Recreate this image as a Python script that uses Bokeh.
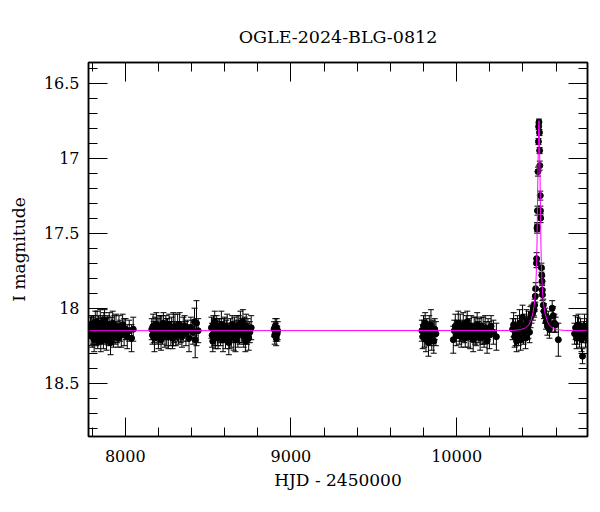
from bokeh.plotting import figure
from bokeh.models import (ColumnDataSource, Whisker, TeeHead, LinearAxis, FixedTicker,
                          CustomJSTickFormatter, Range1d)
from bokeh.embed import file_html
from bokeh.resources import INLINE

# ---------------- data ----------------
t1 = [7790, 7794, 7797, 7801, 7805, 7808, 7812, 7815, 7819, 7823,
      7826, 7830, 7834, 7838, 7841, 7845, 7849, 7852, 7856, 7860,
      7864, 7868, 7871, 7875, 7879, 7883, 7887, 7891, 7895, 7899,
      7903, 7907, 7911, 7915, 7920, 7924, 7929, 7934, 7939, 7944,
      7950, 7956, 7962, 7969, 7976, 7984, 7993, 8002, 8012, 8024,
      8038, 8048]
m1 = [18.13, 18.17, 18.11, 18.19, 18.15, 18.12, 18.21, 18.14, 18.09, 18.16,
      18.18, 18.13, 18.20, 18.11, 18.15, 18.17, 18.10, 18.22, 18.14, 18.16,
      18.12, 18.19, 18.13, 18.08, 18.17, 18.15, 18.21, 18.11, 18.14, 18.18,
      18.12, 18.16, 18.23, 18.13, 18.15, 18.10, 18.19, 18.14, 18.17, 18.12,
      18.16, 18.20, 18.13, 18.15, 18.18, 18.11, 18.16, 18.14, 18.19, 18.15,
      18.20, 18.14]
e1 = [0.07, 0.08, 0.06, 0.07, 0.09, 0.07, 0.08, 0.06, 0.07, 0.08,
      0.07, 0.11, 0.07, 0.06, 0.08, 0.07, 0.09, 0.07, 0.08, 0.06,
      0.07, 0.08, 0.10, 0.07, 0.07, 0.08, 0.07, 0.06, 0.08, 0.07,
      0.09, 0.07, 0.08, 0.07, 0.06, 0.08, 0.07, 0.09, 0.07, 0.08,
      0.07, 0.06, 0.08, 0.07, 0.08, 0.07, 0.09, 0.07, 0.08, 0.07,
      0.09, 0.08]

t2 = [8160, 8164, 8168, 8172, 8176, 8180, 8184, 8188, 8192, 8196,
      8200, 8204, 8208, 8212, 8216, 8220, 8225, 8230, 8235, 8240,
      8245, 8250, 8255, 8260, 8265, 8270, 8275, 8280, 8285, 8290,
      8295, 8300, 8305, 8310, 8316, 8322, 8328, 8335, 8342, 8350,
      8358, 8366, 8375, 8385, 8396, 8408, 8418, 8422, 8430, 8440]
m2 = [18.14, 18.18, 18.12, 18.16, 18.20, 18.13, 18.15, 18.11, 18.17, 18.14,
      18.19, 18.12, 18.16, 18.14, 18.21, 18.13, 18.17, 18.10, 18.15, 18.18,
      18.12, 18.16, 18.14, 18.19, 18.11, 18.15, 18.17, 18.13, 18.20, 18.14,
      18.16, 18.12, 18.18, 18.15, 18.13, 18.17, 18.11, 18.16, 18.19, 18.14,
      18.12, 18.17, 18.15, 18.20, 18.13, 18.16, 18.09, 18.21, 18.10, 18.15]
e2 = [0.07, 0.06, 0.08, 0.07, 0.09, 0.07, 0.06, 0.08, 0.07, 0.07,
      0.08, 0.07, 0.06, 0.09, 0.07, 0.08, 0.07, 0.07, 0.06, 0.08,
      0.07, 0.09, 0.07, 0.08, 0.07, 0.06, 0.08, 0.07, 0.07, 0.11,
      0.07, 0.08, 0.07, 0.06, 0.09, 0.07, 0.08, 0.07, 0.07, 0.08,
      0.07, 0.08, 0.07, 0.09, 0.07, 0.08, 0.09, 0.12, 0.15, 0.08]

t3 = [8520, 8524, 8528, 8532, 8536, 8540, 8544, 8548, 8552, 8556,
      8560, 8565, 8570, 8575, 8580, 8585, 8590, 8595, 8600, 8605,
      8610, 8615, 8620, 8625, 8630, 8635, 8640, 8645, 8650, 8655,
      8660, 8665, 8670, 8675, 8680, 8685, 8690, 8695, 8700, 8705,
      8710, 8715, 8720, 8725, 8730, 8735, 8740, 8745, 8752, 8760]
m3 = [18.13, 18.18, 18.22, 18.11, 18.16, 18.09, 18.19, 18.14, 18.12, 18.17,
      18.20, 18.13, 18.15, 18.18, 18.11, 18.16, 18.21, 18.14, 18.12, 18.19,
      18.15, 18.13, 18.17, 18.23, 18.20, 18.14, 18.18, 18.11, 18.16, 18.19,
      18.13, 18.21, 18.15, 18.12, 18.18, 18.14, 18.17, 18.10, 18.16, 18.13,
      18.09, 18.19, 18.15, 18.22, 18.12, 18.17, 18.14, 18.20, 18.16, 18.13]
e3 = [0.07, 0.08, 0.07, 0.06, 0.09, 0.07, 0.08, 0.07, 0.07, 0.08,
      0.07, 0.06, 0.08, 0.07, 0.09, 0.07, 0.08, 0.07, 0.06, 0.08,
      0.07, 0.09, 0.07, 0.08, 0.07, 0.07, 0.08, 0.06, 0.07, 0.09,
      0.07, 0.08, 0.07, 0.07, 0.08, 0.09, 0.07, 0.08, 0.07, 0.06,
      0.08, 0.07, 0.09, 0.07, 0.08, 0.07, 0.07, 0.08, 0.07, 0.08]

t4 = [8898, 8902, 8905, 8908, 8911, 8914, 8917, 8920]
m4 = [18.14, 18.18, 18.12, 18.16, 18.20, 18.13, 18.17, 18.15]
e4 = [0.05, 0.06, 0.05, 0.06, 0.05, 0.06, 0.05, 0.06]

t5 = [9790, 9795, 9800, 9805, 9810, 9815, 9820, 9825, 9830, 9835,
      9840, 9845, 9850, 9856, 9862, 9868, 9875]
m5 = [18.15, 18.19, 18.12, 18.17, 18.10, 18.21, 18.14, 18.16, 18.23, 18.13,
      18.18, 18.11, 18.20, 18.15, 18.22, 18.14, 18.17]
e5 = [0.07, 0.08, 0.07, 0.09, 0.07, 0.08, 0.07, 0.07, 0.09, 0.08,
      0.07, 0.10, 0.08, 0.07, 0.08, 0.07, 0.08]

t6 = [9980, 9986, 9992, 9998, 10004, 10010, 10016, 10022, 10028, 10034,
      10040, 10046, 10052, 10058, 10064, 10070, 10076, 10082, 10088, 10094,
      10100, 10106, 10112, 10118, 10124, 10130, 10136, 10142, 10148, 10154,
      10160, 10166, 10172, 10178, 10184, 10190, 10198, 10208, 10222, 10240]
m6 = [18.21, 18.15, 18.12, 18.18, 18.14, 18.10, 18.17, 18.13, 18.19, 18.15,
      18.11, 18.16, 18.20, 18.13, 18.09, 18.17, 18.14, 18.19, 18.12, 18.16,
      18.21, 18.13, 18.15, 18.18, 18.11, 18.16, 18.14, 18.20, 18.12, 18.17,
      18.15, 18.19, 18.13, 18.16, 18.22, 18.14, 18.18, 18.12, 18.16, 18.19]
e6 = [0.09, 0.07, 0.08, 0.07, 0.06, 0.08, 0.07, 0.09, 0.07, 0.07,
      0.08, 0.07, 0.06, 0.08, 0.07, 0.09, 0.07, 0.08, 0.07, 0.06,
      0.08, 0.07, 0.09, 0.07, 0.08, 0.07, 0.07, 0.08, 0.06, 0.07,
      0.09, 0.07, 0.08, 0.07, 0.08, 0.07, 0.09, 0.07, 0.08, 0.09]

t7pre = [10338, 10344, 10350, 10356, 10362, 10368, 10374, 10380, 10386, 10392,
         10398, 10404, 10410, 10416, 10422, 10428, 10434, 10440, 10446, 10452]
m7pre = [18.14, 18.11, 18.19, 18.16, 18.22, 18.13, 18.18, 18.10, 18.21, 18.15,
         18.06, 18.17, 18.12, 18.20, 18.09, 18.14, 18.11, 18.16, 18.06, 18.04]
e7pre = [0.07, 0.08, 0.07, 0.09, 0.07, 0.08, 0.07, 0.09, 0.07, 0.08,
         0.08, 0.07, 0.08, 0.07, 0.08, 0.07, 0.09, 0.07, 0.07, 0.06]

t7ev = [10460, 10465, 10468, 10471, 10475, 10477, 10482, 10483, 10486, 10486,
        10488, 10491, 10494, 10495, 10497, 10500, 10501, 10502, 10505, 10506,
        10507, 10512, 10514, 10516, 10517, 10518, 10523, 10527, 10533, 10540,
        10548, 10553, 10560, 10568, 10577, 10583, 10590, 10598, 10614]
m7ev = [18.03, 18.01, 18.01, 17.98, 17.92, 17.87, 17.70, 17.67, 17.47, 17.46,
        17.35, 17.09, 16.89, 16.79, 16.76, 16.83, 16.95, 17.05, 17.25, 17.35,
        17.40, 17.73, 17.78, 17.82, 17.88, 17.91, 17.98, 18.02, 18.05, 18.09,
        18.12, 18.07, 18.14, 18.11, 18.00, 18.05, 18.10, 18.11, 18.21]
e7ev = [0.05, 0.04, 0.05, 0.04, 0.04, 0.04, 0.03, 0.04, 0.03, 0.03,
        0.03, 0.03, 0.02, 0.02, 0.02, 0.02, 0.02, 0.03, 0.03, 0.03,
        0.03, 0.03, 0.04, 0.03, 0.04, 0.04, 0.04, 0.05, 0.05, 0.05,
        0.06, 0.05, 0.06, 0.05, 0.05, 0.06, 0.06, 0.05, 0.11]

t8 = [10712, 10718, 10724, 10730, 10736, 10742, 10748, 10754, 10760, 10766,
      10772, 10778, 10785]
m8 = [18.17, 18.13, 18.20, 18.15, 18.11, 18.18, 18.14, 18.21, 18.32, 18.16,
      18.12, 18.19, 18.15]
e8 = [0.07, 0.08, 0.07, 0.09, 0.07, 0.08, 0.07, 0.08, 0.05, 0.07,
      0.08, 0.07, 0.08]

# model curve
curve_t = [7778, 10337, 10387, 10417, 10437, 10449, 10459, 10467, 10473, 10477,
           10480, 10483, 10485, 10487, 10489, 10491, 10493, 10495, 10497, 10499,
           10501, 10503, 10505, 10507, 10509, 10511, 10514, 10517, 10521, 10527,
           10535, 10545, 10557, 10577, 10607, 10657, 10790]
curve_m = [18.15, 18.149, 18.143, 18.13, 18.11, 18.08, 18.04, 17.99, 17.93, 17.86,
           17.79, 17.69, 17.58, 17.42, 17.25, 17.09, 16.93, 16.80, 16.75, 16.80,
           16.93, 17.09, 17.25, 17.42, 17.58, 17.69, 17.79, 17.86, 17.93, 17.99,
           18.04, 18.08, 18.11, 18.13, 18.143, 18.149, 18.15]

x_major = [8000, 9000, 10000]
y_major = [16.5, 17, 17.5, 18, 18.5]

title_text = "OGLE-2024-BLG-0812"
x_label = "HJD - 2450000"
y_label = "I magnitude"

# ---------------- assemble ----------------
T = t1 + t2 + t3 + t4 + t5 + t6 + t7pre + t7ev + t8
M = m1 + m2 + m3 + m4 + m5 + m6 + m7pre + m7ev + m8
E = e1 + e2 + e3 + e4 + e5 + e6 + e7pre + e7ev + e8
src = ColumnDataSource(dict(t=T, m=M,
                            up=[a + b for a, b in zip(M, E)],
                            lo=[a - b for a, b in zip(M, E)]))

FONT = "DejaVu Serif"

p = figure(width=592, height=504, output_backend="svg", toolbar_location=None,
           x_range=Range1d(7778, 10790), y_range=Range1d(18.855, 16.363),
           x_axis_location=None, y_axis_location=None,
           min_border_left=88, min_border_right=5, min_border_top=62,
           min_border_bottom=68)
p.background_fill_color = "white"
p.border_fill_color = "white"
p.outline_line_color = "black"
p.outline_line_width = 1.5
p.xgrid.visible = False
p.ygrid.visible = False

p.title.text = title_text
p.title.align = "center"
p.title.text_font = FONT
p.title.text_font_size = "17.5px"
p.title.text_font_style = "normal"
p.title.text_color = "black"
p.title.standoff = 31

xt = FixedTicker(ticks=x_major, minor_ticks=list(range(7800, 10801, 200)))
yt = FixedTicker(ticks=y_major, minor_ticks=[round(16.3 + 0.1 * i, 1) for i in range(27)])
fmt = CustomJSTickFormatter(code="return tick.toString();")
blank = CustomJSTickFormatter(code="return '';")


def style(ax, labels=True):
    ax.axis_line_color = "black"
    ax.axis_line_width = 1.5
    ax.major_tick_in = 19
    ax.major_tick_out = 0
    ax.minor_tick_in = 9
    ax.minor_tick_out = 0
    ax.major_tick_line_color = "black"
    ax.minor_tick_line_color = "black"
    ax.major_tick_line_width = 1
    ax.minor_tick_line_width = 1
    ax.major_label_text_font = FONT
    ax.major_label_text_font_size = "16px"
    ax.major_label_text_color = "black"
    ax.axis_label_text_font = FONT
    ax.axis_label_text_font_size = "17px"
    ax.axis_label_text_font_style = "normal"
    ax.axis_label_text_color = "black"
    if not labels:
        ax.major_label_text_font_size = "0px"
        ax.major_label_standoff = 0


xb = LinearAxis(ticker=xt, formatter=fmt, axis_label=x_label)
style(xb)
xb.major_label_standoff = 13
xb.axis_label_standoff = 5
p.add_layout(xb, "below")

yl = LinearAxis(ticker=yt, formatter=fmt, axis_label=y_label)
style(yl)
yl.major_label_standoff = 9
yl.axis_label_standoff = 12
p.add_layout(yl, "left")

xa = LinearAxis(ticker=xt, formatter=blank)
style(xa, labels=False)
p.add_layout(xa, "above")

yr = LinearAxis(ticker=yt, formatter=blank)
style(yr, labels=False)
p.add_layout(yr, "right")

wh = Whisker(base="t", upper="up", lower="lo", source=src, dimension="height",
             line_color="black", line_width=1,
             upper_head=TeeHead(size=6, line_color="black", line_width=1),
             lower_head=TeeHead(size=6, line_color="black", line_width=1))
p.add_layout(wh)

p.scatter("t", "m", source=src, size=6, color="black")
p.line(curve_t, curve_m, color="#ff00ff", line_width=1)

open("out.html", "w").write(file_html(p, INLINE))
